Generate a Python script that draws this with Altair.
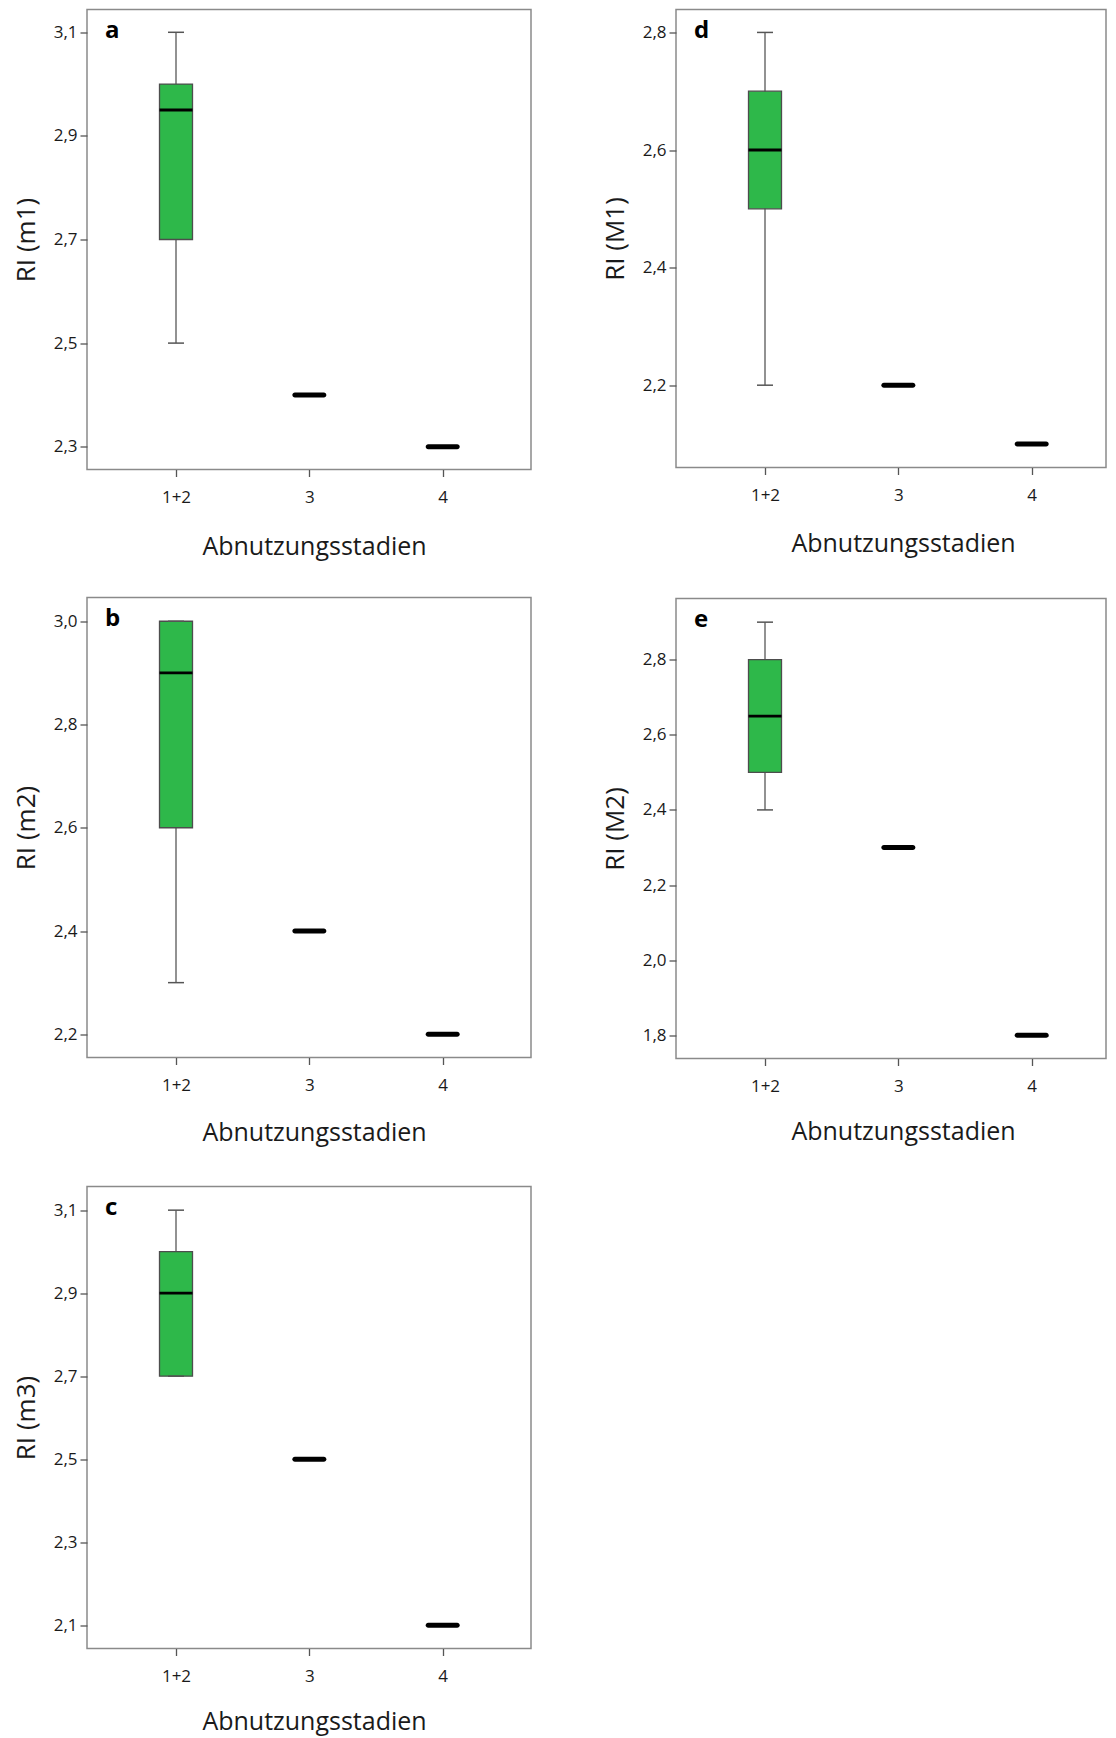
import altair as alt
import pandas as pd

# ---- data ----
cats = ["1+2", "3", "4"]
panel_labels = ["a", "b", "c", "d", "e"]
y_titles = ["RI (m1)", "RI (m2)", "RI (m3)", "RI (M1)", "RI (M2)"]

whisker_low = [2.5, 2.3, 2.7, 2.2, 2.4]
q1 = [2.7, 2.6, 2.7, 2.5, 2.5]
median = [2.95, 2.9, 2.9, 2.6, 2.65]
q3 = [3.0, 3.0, 3.0, 2.7, 2.8]
whisker_high = [3.1, 3.0, 3.1, 2.8, 2.9]
stage3 = [2.4, 2.4, 2.5, 2.2, 2.3]
stage4 = [2.3, 2.2, 2.1, 2.1, 1.8]

y_ticks_a = [2.3, 2.5, 2.7, 2.9, 3.1]
y_ticks_b = [2.2, 2.4, 2.6, 2.8, 3.0]
y_ticks_c = [2.1, 2.3, 2.5, 2.7, 2.9, 3.1]
y_ticks_d = [2.2, 2.4, 2.6, 2.8]
y_ticks_e = [1.8, 2.0, 2.2, 2.4, 2.6, 2.8]
y_ticks = [y_ticks_a, y_ticks_b, y_ticks_c, y_ticks_d, y_ticks_e]

y_domains = [
    [2.256, 3.144],
    [2.155, 3.046],
    [2.044, 3.157],
    [2.060, 2.839],
    [1.738, 2.963],
]
heights = [460, 460, 462, 458, 460]
widths = [444, 444, 444, 430, 430]
x_title_offsets = [85, 83, 81, 84, 81]

GREEN = "#2eb84a"
FONT = "Open Sans"


def panel(i):
    box = pd.DataFrame({
        "cat": [cats[0]],
        "lo": [whisker_low[i]],
        "q1": [q1[i]],
        "med": [median[i]],
        "q3": [q3[i]],
        "hi": [whisker_high[i]],
    })
    single = pd.DataFrame({"cat": cats[1:], "v": [stage3[i], stage4[i]]})
    lab = pd.DataFrame({"t": [panel_labels[i]]})

    x = alt.X(
        "cat:N",
        sort=cats,
        scale=alt.Scale(type="point", domain=cats, range=[89, 355.7], padding=0),
        axis=alt.Axis(
            title="Abnutzungsstadien", labelAngle=0, labelPadding=13,
            titleX=227, titleY=x_title_offsets[i], titleBaseline="alphabetic",
            titleAlign="center",
        ),
    )
    yscale = alt.Scale(domain=y_domains[i], nice=False, zero=False)
    yaxis = alt.Axis(
        values=y_ticks[i],
        labelExpr="replace(format(datum.value, '.1f'), '.', ',')",
        title=y_titles[i],
        labelPadding=3,
        titleX=-61,
        titleBaseline="middle",
        titleFontSize=26,
    )

    whisk = alt.Chart(box).mark_rule(color="#6e6e6e", strokeWidth=1.5).encode(
        x=x, y=alt.Y("lo:Q", scale=yscale, axis=yaxis), y2="hi:Q"
    )
    boxm = alt.Chart(box).mark_bar(
        size=33, color=GREEN, stroke="#4d4d4d", strokeWidth=1.3, opacity=1
    ).encode(x=x, y=alt.Y("q1:Q", scale=yscale), y2="q3:Q")
    cap_lo = alt.Chart(box).mark_tick(
        size=16, thickness=1.5, color="#555555", opacity=1
    ).encode(x=x, y=alt.Y("lo:Q", scale=yscale))
    cap_hi = alt.Chart(box).mark_tick(
        size=16, thickness=1.5, color="#555555", opacity=1
    ).encode(x=x, y=alt.Y("hi:Q", scale=yscale))
    med = alt.Chart(box).mark_tick(
        size=33, thickness=2.8, color="#000000", opacity=1
    ).encode(x=x, y=alt.Y("med:Q", scale=yscale))
    sing = alt.Chart(single).mark_tick(
        size=34, thickness=5, color="#000000", cornerRadius=2.5, opacity=1
    ).encode(x=x, y=alt.Y("v:Q", scale=yscale))
    label = alt.Chart(lab).mark_text(
        align="left", baseline="alphabetic", fontSize=24, fontWeight="bold",
        font=FONT, color="#000000"
    ).encode(text="t:N", x=alt.value(18), y=alt.value(28))

    return alt.layer(whisk, boxm, cap_lo, cap_hi, med, sing, label).properties(
        width=widths[i], height=heights[i]
    )


pa, pb, pc, pd_, pe = [panel(i) for i in range(5)]

left = alt.vconcat(pa, alt.vconcat(pb, pc, spacing=39), spacing=36)
right = alt.vconcat(pd_, pe, spacing=40)

chart = (
    alt.hconcat(left, right, spacing=69)
    .properties(padding={"top": 0.5, "left": 4, "right": 0, "bottom": 0})
    .configure_view(stroke="#8a8a8a", strokeWidth=1.5)
    .configure_axis(
        domain=False,
        grid=False,
        tickColor="#555555",
        tickSize=7,
        tickWidth=1.3,
        labelFont=FONT,
        labelFontSize=17,
        labelColor="#1a1a1a",
        titleFont=FONT,
        titleFontSize=25,
        titleFontWeight="normal",
        titleColor="#1a1a1a",
    )
)

chart.save("out.html", embed_options={"renderer": "svg", "actions": False})
